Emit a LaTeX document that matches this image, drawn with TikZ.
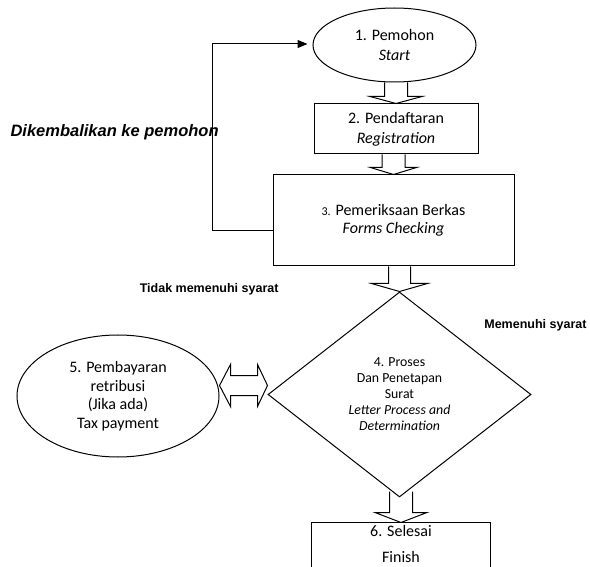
\documentclass[tikz,border=0pt]{standalone}
\usepackage{fontspec}
\setmainfont{Carlito}
\newfontfamily\arialfont{Liberation Sans}
\usetikzlibrary{shapes.geometric,arrows.meta,calc}
\newcommand\blkdown[5]{%
  \path[blk] let \p1=(#1), \p2=(#2) in
  (\x2-#3pt,\y1) -- (\x2-#3pt,\y2+#5pt) -- (\x2-#4pt,\y2+#5pt) -- (\x2,\y2)
  -- (\x2+#4pt,\y2+#5pt) -- (\x2+#3pt,\y2+#5pt) -- (\x2+#3pt,\y1);}
\begin{document}
\begin{tikzpicture}[x=1pt,y=-1pt,line width=1pt,
  every node/.style={font=\fontsize{16}{20}\selectfont,align=center,inner sep=0pt},
  boxnode/.style={draw,rectangle},
  ovalnode/.style={draw,ellipse},
  decisionnode/.style={draw,diamond},
  blk/.style={draw,line width=1pt,line join=miter},
  lbl/.style={font=\arialfont\bfseries\fontsize{12.5}{15}\selectfont},
  bigLbl/.style={font=\arialfont\bfseries\itshape\fontsize{16.5}{19}\selectfont}]
\useasboundingbox (0,0) rectangle (590,567);
\clip (0,0) rectangle (590,567);

\node[ovalnode,minimum width=163pt,minimum height=74pt] (e1) at (394.5,45)
  {1. Pemohon\\\textit{Start}};
\node[boxnode,minimum width=164pt,minimum height=50pt] (r2) at (396,129)
  {2. Pendaftaran\\\textit{Registration}};
\node[boxnode,minimum width=241pt,minimum height=91pt,font=\fontsize{16}{18}\selectfont] (r3) at (393.5,220.5)
  {{\fontsize{12}{14}\selectfont 3.} Pemeriksaan Berkas\\\textit{Forms Checking}};
\node[decisionnode,minimum width=263pt,minimum height=205pt,font=\fontsize{13.8}{16}\selectfont] (d4) at (399.5,394.5)
  {4. Proses\\Dan Penetapan\\Surat\\\textit{Letter Process and}\\\textit{Determination}};
\node[ovalnode,minimum width=202pt,minimum height=122pt,font=\fontsize{16}{18.5}\selectfont] (e5) at (118,396)
  {5. Pembayaran\\retribusi\\(Jika ada)\\Tax payment};
\node[minimum width=178pt,minimum height=42pt,font=\fontsize{16}{26}\selectfont] (r6) at (401,544)
  {6. Selesai\\Finish};
\draw ([yshift=-10pt]r6.south west) -- (r6.north west) -- (r6.north east) -- ([yshift=-10pt]r6.south east);

\blkdown{e1.south}{r2.north}{11.5}{26}{7}
\blkdown{r2.south}{r3.north}{11.5}{23}{7}
\blkdown{r3.south}{d4.north}{11}{28}{8}
\blkdown{[yshift=6pt]d4.south}{r6.north}{11.5}{26}{10}

\path[blk] let \p1=(e5.east), \p2=(d4.west) in
  (\x1,\y2+9pt) -- (\x1+11pt,\y2+30pt) -- (\x1+11pt,\y2+19pt) -- (\x2-10pt,\y2+19pt)
  -- (\x2-10pt,\y2+30pt) -- (\x2,\y2+9pt) -- (\x2-10pt,\y2-12pt) -- (\x2-10pt,\y2-1pt)
  -- (\x1+11pt,\y2-1pt) -- (\x1+11pt,\y2-12pt) -- cycle;

\coordinate (fb) at (212,231);
\draw[-{Triangle[length=10pt,width=8pt]},shorten >=5pt]
  ([yshift=-10.5pt]r3.west) -- (fb) |- ([yshift=1pt]e1.west);

\node[bigLbl,anchor=base west] (lb1) at (10,137) {Dikembalikan ke pemohon};
\node[lbl,anchor=base east] (lb2) at (279,292.5) {Tidak memenuhi syarat};
\node[lbl,anchor=base east] (lb3) at (587,328) {Memenuhi syarat};
\end{tikzpicture}
\end{document}
